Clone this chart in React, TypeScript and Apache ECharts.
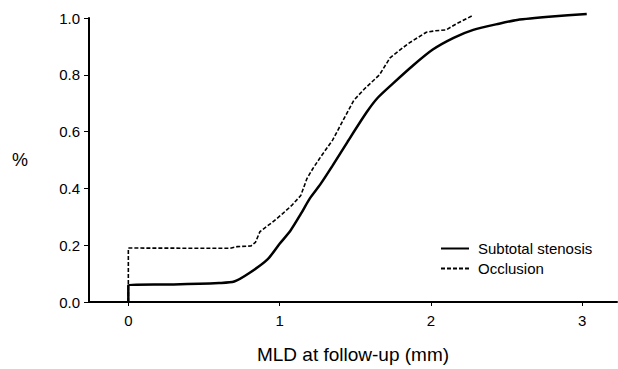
import React, { useEffect, useRef } from "react";
import * as echarts from "echarts";

const xTicks = [0, 1, 2, 3];

const subtotalStenosis: [number, number][] = [
  [0, 0], [0, 0.06], [0.3, 0.062], [0.6, 0.067], [0.7, 0.072], [0.8, 0.102],
  [0.92, 0.15], [1.0, 0.205], [1.07, 0.25], [1.14, 0.31], [1.2, 0.365],
  [1.27, 0.415], [1.35, 0.48], [1.45, 0.565], [1.575, 0.668], [1.65, 0.72],
  [1.75, 0.77], [1.88, 0.832], [2.01, 0.888], [2.15, 0.93], [2.28, 0.958],
  [2.45, 0.98], [2.57, 0.993], [2.8, 1.005], [3.03, 1.014],
];

const occlusion: [number, number][] = [
  [0, 0], [0, 0.19], [0.67, 0.189], [0.72, 0.195], [0.81, 0.197], [0.84, 0.21],
  [0.87, 0.248], [0.95, 0.28], [1.02, 0.311], [1.08, 0.34], [1.14, 0.375],
  [1.18, 0.434], [1.22, 0.47], [1.27, 0.51], [1.35, 0.57], [1.42, 0.64],
  [1.49, 0.71], [1.56, 0.75], [1.66, 0.8], [1.73, 0.86], [1.85, 0.91],
  [1.97, 0.95], [2.03, 0.955], [2.1, 0.958], [2.17, 0.98], [2.27, 1.007],
];

const FONT = "'Liberation Sans', Arial, sans-serif";

export default function App() {
  const ref = useRef<HTMLDivElement>(null);
  useEffect(() => {
    if (!ref.current) return;
    const chart = echarts.init(ref.current, undefined, { renderer: "svg" });
    chart.setOption({
      animation: false,
      textStyle: { fontFamily: FONT, color: "#000" },
      grid: { left: 89, right: 1, top: 18, bottom: 65 },
      legend: {
        orient: "vertical",
        left: 435,
        top: 236,
        itemWidth: 28,
        itemHeight: 8,
        itemGap: 5,
        itemStyle: { opacity: 0 },
        textStyle: { fontFamily: FONT, fontSize: 15, color: "#000", padding: [0, 0, 0, 4] },
        data: ["Subtotal stenosis", "Occlusion"],
      },
      xAxis: {
        type: "value",
        min: -0.26,
        max: 3.23,
        name: "MLD at follow-up (mm)",
        nameLocation: "middle",
        nameGap: 43,
        nameTextStyle: { fontFamily: FONT, fontSize: 19, color: "#000" },
        axisLine: { onZero: false, lineStyle: { color: "#000", width: 2 } },
        axisTick: { show: true, length: 4, customValues: xTicks, lineStyle: { color: "#000" } },
        axisLabel: { customValues: xTicks, fontSize: 15, color: "#000", margin: 11, fontFamily: FONT },
        splitLine: { show: false },
      },
      yAxis: {
        type: "value",
        min: 0,
        max: 1,
        interval: 0.2,
        name: "%",
        nameLocation: "middle",
        nameRotate: 0,
        nameGap: 61,
        nameTextStyle: { fontFamily: FONT, fontSize: 18, color: "#000" },
        axisLine: { show: true, onZero: false, lineStyle: { color: "#000", width: 2 } },
        axisTick: { show: true, length: 5, lineStyle: { color: "#000" } },
        axisLabel: {
          fontSize: 15,
          color: "#000",
          margin: 9,
          fontFamily: FONT,
          formatter: (v: number) => v.toFixed(1),
        },
        splitLine: { show: false },
      },
      series: [
        {
          name: "Subtotal stenosis",
          type: "line",
          data: subtotalStenosis,
          symbol: "none",
          smooth: 0.25,
          clip: false,
          lineStyle: { color: "#000", width: 2.5 },
          itemStyle: { color: "#000" },
        },
        {
          name: "Occlusion",
          type: "line",
          data: occlusion,
          symbol: "none",
          clip: false,
          lineStyle: { color: "#000", width: 1.6, type: [4, 2] },
          itemStyle: { color: "#000" },
        },
      ],
    });
    return () => chart.dispose();
  }, []);
  return (
    <div
      ref={ref}
      style={{ position: "absolute", left: 0, top: 0, width: 618, height: 369 }}
    />
  );
}
